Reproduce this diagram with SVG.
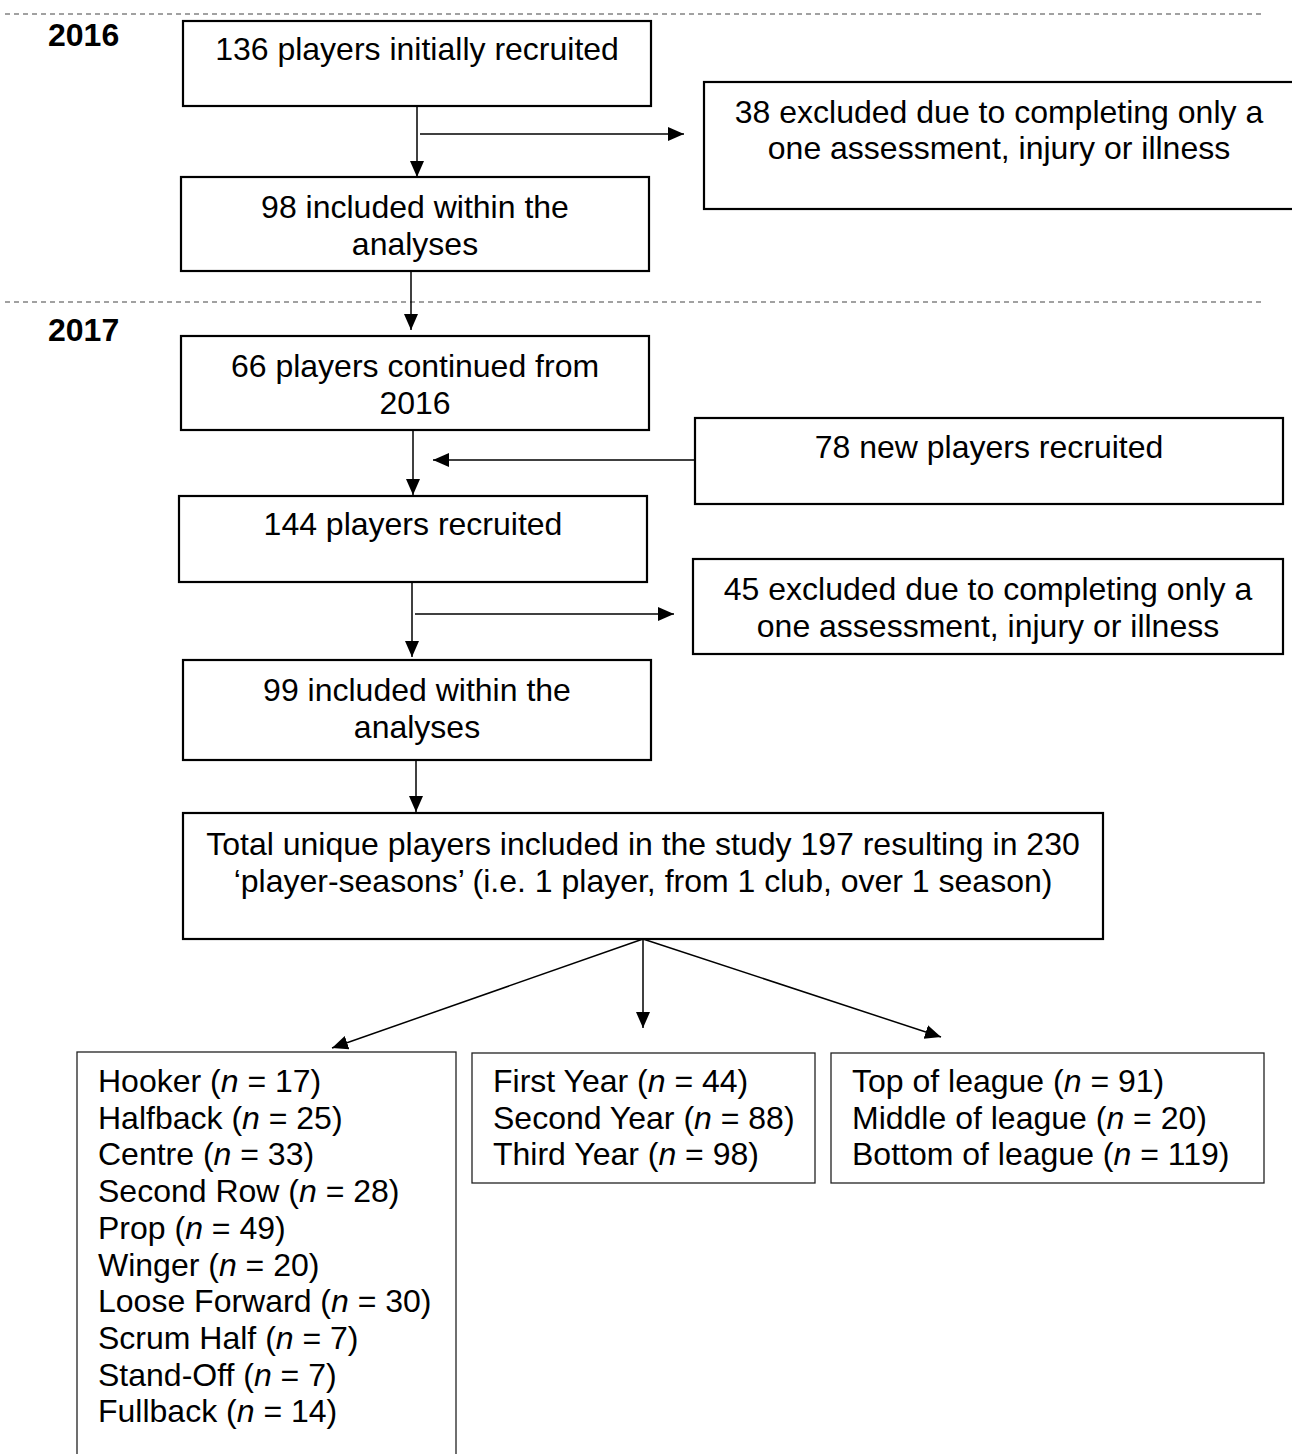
<svg xmlns="http://www.w3.org/2000/svg" width="1292" height="1454" viewBox="0 0 1292 1454">
<style>
text{font-family:"Liberation Sans",Arial,sans-serif;font-size:32px;fill:#000}
.c{text-anchor:middle}
.yr{font-weight:bold}
.box{fill:#fff;stroke:#000;stroke-width:2.2}
.thin{fill:#fff;stroke:#222;stroke-width:1.3}
.dash{stroke:#444;stroke-width:1.2;stroke-dasharray:5 4;fill:none}
.ln{stroke:#000;stroke-width:1.5;fill:none;marker-end:url(#ah)}
</style>
<defs>
<marker id="ah" markerUnits="userSpaceOnUse" markerWidth="16" markerHeight="16" viewBox="0 0 16 16" refX="16" refY="8" orient="auto">
<path d="M0,1 L16,8 L0,15 Z" fill="#000"/>
</marker>
</defs>
<g id="dividers">
<line class="dash" x1="5" y1="14" x2="1264" y2="14"/>
<line class="dash" x1="5" y1="302" x2="1264" y2="302"/>
<text class="yr" x="48" y="46">2016</text>
<text class="yr" x="48" y="341">2017</text>
</g>
<g id="connectors">
<line class="ln" x1="417" y1="106" x2="417" y2="177"/>
<line class="ln" x1="420" y1="134" x2="684" y2="134"/>
<line class="ln" x1="411" y1="271" x2="411" y2="330"/>
<line class="ln" x1="413" y1="430" x2="413" y2="495"/>
<line class="ln" x1="695" y1="460" x2="433" y2="460"/>
<line class="ln" x1="412" y1="582" x2="412" y2="657"/>
<line class="ln" x1="415" y1="614" x2="674" y2="614"/>
<line class="ln" x1="416" y1="760" x2="416" y2="812"/>
<line class="ln" x1="643" y1="939" x2="332" y2="1048"/>
<line class="ln" x1="643" y1="939" x2="643" y2="1028"/>
<line class="ln" x1="643" y1="939" x2="941" y2="1037"/>
</g>
<g id="n1">
<rect class="box" x="183" y="21" width="468" height="85"/>
<text class="c" x="417" y="60">136 players initially recruited</text>
</g>
<g id="n2">
<rect class="box" x="704" y="82" width="600" height="127"/>
<text class="c" x="999" y="123">38 excluded due to completing only a</text>
<text class="c" x="999" y="159">one assessment, injury or illness</text>
</g>
<g id="n3">
<rect class="box" x="181" y="177" width="468" height="94"/>
<text class="c" x="415" y="218">98 included within the</text>
<text class="c" x="415" y="255">analyses</text>
</g>
<g id="n4">
<rect class="box" x="181" y="336" width="468" height="94"/>
<text class="c" x="415" y="377">66 players continued from</text>
<text class="c" x="415" y="414">2016</text>
</g>
<g id="n5">
<rect class="box" x="695" y="418" width="588" height="86"/>
<text class="c" x="989" y="458">78 new players recruited</text>
</g>
<g id="n6">
<rect class="box" x="179" y="496" width="468" height="86"/>
<text class="c" x="413" y="535">144 players recruited</text>
</g>
<g id="n7">
<rect class="box" x="693" y="559" width="590" height="95"/>
<text class="c" x="988" y="600">45 excluded due to completing only a</text>
<text class="c" x="988" y="637">one assessment, injury or illness</text>
</g>
<g id="n8">
<rect class="box" x="183" y="660" width="468" height="100"/>
<text class="c" x="417" y="701">99 included within the</text>
<text class="c" x="417" y="738">analyses</text>
</g>
<g id="n9">
<rect class="box" x="183" y="813" width="920" height="126"/>
<text class="c" x="643" y="855">Total unique players included in the study 197 resulting in 230</text>
<text class="c" x="643" y="892">‘player-seasons’ (i.e. 1 player, from 1 club, over 1 season)</text>
</g>
<g id="n10">
<rect class="thin" x="77" y="1052" width="379" height="420"/>
<text x="98" y="1092">Hooker (<tspan font-style="italic">n</tspan> = 17)</text>
<text x="98" y="1128.7">Halfback (<tspan font-style="italic">n</tspan> = 25)</text>
<text x="98" y="1165.4">Centre (<tspan font-style="italic">n</tspan> = 33)</text>
<text x="98" y="1202.1">Second Row (<tspan font-style="italic">n</tspan> = 28)</text>
<text x="98" y="1238.8">Prop (<tspan font-style="italic">n</tspan> = 49)</text>
<text x="98" y="1275.5">Winger (<tspan font-style="italic">n</tspan> = 20)</text>
<text x="98" y="1312.2">Loose Forward (<tspan font-style="italic">n</tspan> = 30)</text>
<text x="98" y="1348.9">Scrum Half (<tspan font-style="italic">n</tspan> = 7)</text>
<text x="98" y="1385.6">Stand-Off (<tspan font-style="italic">n</tspan> = 7)</text>
<text x="98" y="1422.3">Fullback (<tspan font-style="italic">n</tspan> = 14)</text>
</g>
<g id="n11">
<rect class="thin" x="472" y="1053" width="343" height="130"/>
<text x="493" y="1092">First Year (<tspan font-style="italic">n</tspan> = 44)</text>
<text x="493" y="1128.7">Second Year (<tspan font-style="italic">n</tspan> = 88)</text>
<text x="493" y="1165.4">Third Year (<tspan font-style="italic">n</tspan> = 98)</text>
</g>
<g id="n12">
<rect class="thin" x="831" y="1053" width="433" height="130"/>
<text x="852" y="1092">Top of league (<tspan font-style="italic">n</tspan> = 91)</text>
<text x="852" y="1128.7">Middle of league (<tspan font-style="italic">n</tspan> = 20)</text>
<text x="852" y="1165.4">Bottom of league (<tspan font-style="italic">n</tspan> = 119)</text>
</g>
</svg>
